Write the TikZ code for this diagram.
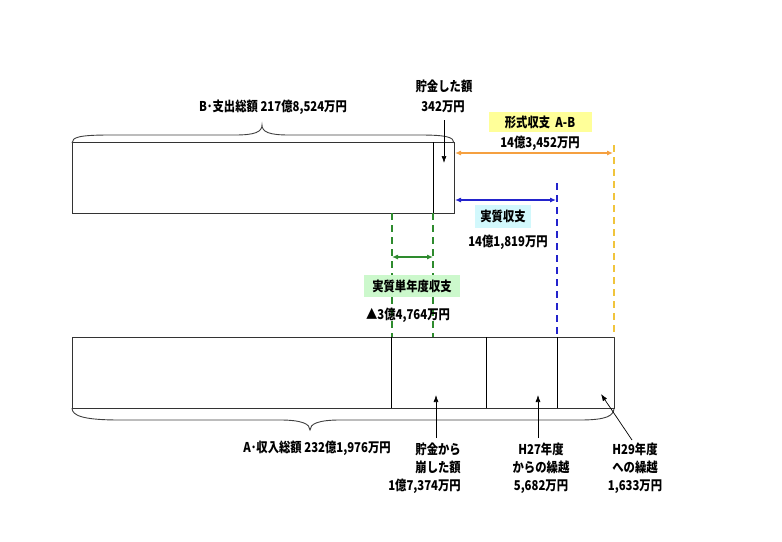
\documentclass[tikz,border=0pt]{standalone}
\usepackage{fontspec}
\newfontfamily\jp{Noto Sans CJK JP}[FakeStretch=0.84]
\usetikzlibrary{arrows.meta}
\definecolor{orng}{HTML}{F5A040}
\definecolor{ylw}{HTML}{F0C43C}
\definecolor{blu}{HTML}{2323CC}
\definecolor{grn}{HTML}{2E8B2E}
\definecolor{ybox}{HTML}{FFFF99}
\definecolor{cbox}{HTML}{D2F8FC}
\definecolor{gbox}{HTML}{CCF8CC}
\tikzset{
  lbl/.style={font=\jp\bfseries\fontsize{13.5}{18}\selectfont, inner sep=0pt, align=center},
  tagbox/.style={lbl, minimum height=20pt},
  box/.style={draw=black!80, line width=0.9pt},
  divl/.style={draw=black, line width=0.9pt},
  ptr/.style={-{Latex[length=7pt,width=5pt]}, line width=0.7pt},
  vdash/.style={line width=1.3pt, dash pattern=on 7pt off 5pt},
  dbl/.style={{Latex[length=6pt,width=5pt]}-{Latex[length=6pt,width=5pt]}, line width=1.1pt},
  brc/.style={draw=black!75, line width=0.9pt}
}
\begin{document}
\begin{tikzpicture}[x=1pt,y=-1pt]
\useasboundingbox (0,0) rectangle (782,541);
% coordinates
\coordinate (TL) at (72,142);
\coordinate (TR) at (454,213);
\coordinate (BL) at (72,337);
\coordinate (BR) at (614,408);
% top rectangle
\draw[box] (TL) rectangle (TR);
\draw[divl] (433,142) -- (433,213);
% bottom rectangle
\draw[box] (BL) rectangle (BR);
\draw[divl] (391,337) -- (391,408);
\draw[divl] (486,337) -- (486,408);
\draw[divl] (557,337) -- (557,408);
% top brace
\draw[brc] (72,143) .. controls (72,137) and (80,135) .. (110,135) -- (235,135)
  .. controls (255,135) and (262,132) .. (262,125)
  .. controls (262,132) and (269,135) .. (289,135) -- (420,135)
  .. controls (446,135) and (454,137) .. (454,143);
% bottom brace
\draw[brc] (72,408) .. controls (72,416) and (84,420) .. (120,420) -- (280,420)
  .. controls (302,420) and (310,424) .. (310,430)
  .. controls (310,424) and (318,420) .. (340,420) -- (580,420)
  .. controls (606,420) and (614,416) .. (614,408);
% dashed guide lines
\coordinate (g1t) at (392,213); \coordinate (g1b) at (392,337);
\coordinate (g2t) at (433,213); \coordinate (g2b) at (433,337);
\coordinate (bt) at (557,183); \coordinate (bb) at (557,337);
\coordinate (yt) at (614,145); \coordinate (yb) at (614,337);
\draw[vdash, grn] (g1t) -- (g1b);
\draw[vdash, grn] (g2t) -- (g2b);
\draw[vdash, blu] (bt) -- (bb);
\draw[vdash, ylw] (yt) -- (yb);
% double arrows
\coordinate (oa) at (455,153); \coordinate (ob) at (613,153);
\coordinate (ba) at (455,200); \coordinate (bbb) at (556,200);
\coordinate (ga) at (392,257); \coordinate (gb) at (433,257);
\draw[dbl, orng] (oa) -- (ob);
\draw[dbl, blu] (ba) -- (bbb);
\draw[dbl, grn] (ga) -- (gb);
% labels top
\node[lbl] (bsum) at (273,107) {B･支出総額 217億8,524万円};
\node[lbl] (cho1) at (444,86) {貯金した額};
\node[lbl] (cho2) at (443,107) {342万円};
\coordinate (choT) at (444,163);
\draw[ptr] (444,120) -- (choT);
\node[tagbox, fill=ybox, minimum width=103pt] (keishiki) at (540,122) {形式収支\ \ A-B};
\node[lbl] (keishikiv) at (540,143) {14億3,452万円};
\node[tagbox, fill=cbox, minimum width=56pt, minimum height=23pt] (jisshitsu) at (503,216) {実質収支};
\node[lbl] (jisshitsuv) at (508,242) {14億1,819万円};
\node[tagbox, fill=gbox, minimum width=96pt, minimum height=22pt] (tannen) at (412,286) {実質単年度収支};
\node[lbl] (tannenv) at (408,315) {▲3億4,764万円};
% labels bottom
\node[lbl] (asum) at (317,448) {A･収入総額 232億1,976万円};
\node[lbl, align=right, anchor=north east] (kuzu) at (461,443) {貯金から\\崩した額\\1億7,374万円};
\node[lbl, anchor=north] (h27) at (541,443) {H27年度\\からの繰越\\5,682万円};
\node[lbl, anchor=north] (h29) at (635,443) {H29年度\\への繰越\\1,633万円};
\coordinate (k1) at (436,395);
\coordinate (k2) at (538,395);
\coordinate (k3) at (601,394);
\draw[ptr] (436,438) -- (k1);
\draw[ptr] (538,438) -- (k2);
\draw[ptr] (632,440) -- (k3);
\end{tikzpicture}
\end{document}
